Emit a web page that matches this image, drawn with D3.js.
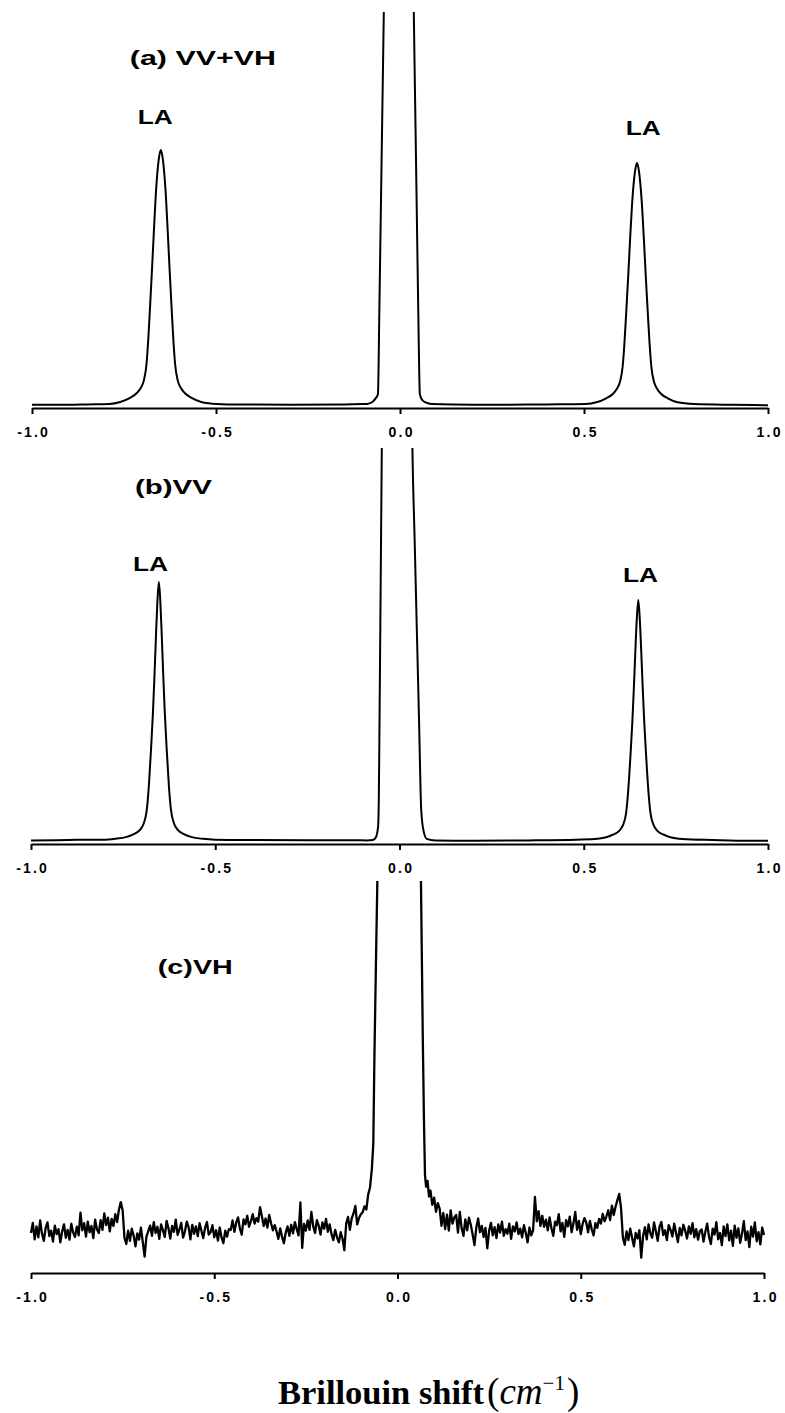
<!DOCTYPE html>
<html>
<head>
<meta charset="utf-8">
<script src="https://cdn.jsdelivr.net/npm/d3@7/dist/d3.min.js"></script>
<style>
  body { margin: 0; background: #fff; }
  svg { display: block; background: #fff; }
  .axis path, .axis line { stroke: #000; stroke-width: 2; }
  .axis text { font-family: Arial, "Liberation Sans", sans-serif; font-weight: bold; font-size: 14px; letter-spacing: 2.2px; fill: #000; }
  .lab { font-family: Arial, "Liberation Sans", sans-serif; font-weight: bold; font-size: 20px; fill: #000; }
  .spec { fill: none; stroke: #000; stroke-width: 2; stroke-linejoin: round; }
  .spec.noisy { stroke-width: 2.3; }
</style>
</head>
<body>
<svg id="chart" width="785" height="1413"></svg>
<script>
// ticks shared by the three panels
const shiftTicks = [-1.0, -0.5, 0.0, 0.5, 1.0];
const panelTitles = ["(a) VV+VH", "(b)VV", "(c)VH"];
const peakLabel = "LA";

// (a) VV+VH : [shift cm-1, intensity] (100 = top of panel, Rayleigh line runs off scale)
const vvvh = [
  [-1.000, 0.3], [-0.900, 0.3], [-0.850, 0.4], [-0.790, 0.5],
  [-0.760, 1.0], [-0.735, 2.0], [-0.715, 3.3], [-0.705, 4.5], [-0.696, 6.5],
  [-0.689, 10.5], [-0.684, 17], [-0.679, 25.5], [-0.674, 34.5], [-0.669, 44],
  [-0.664, 53], [-0.6595, 59], [-0.655, 63], [-0.650, 65], [-0.645, 63],
  [-0.6405, 59], [-0.636, 53], [-0.631, 44], [-0.626, 34.5], [-0.621, 25.5],
  [-0.616, 17], [-0.611, 10.5], [-0.604, 6.5], [-0.595, 4.5], [-0.585, 3.3],
  [-0.565, 2.0], [-0.540, 1.0], [-0.510, 0.6], [-0.450, 0.4], [-0.300, 0.3],
  [-0.150, 0.4], [-0.100, 0.5], [-0.090, 0.5], [-0.075, 1.0], [-0.066, 2.0],
  [-0.060, 3.0], [-0.056, 25], [-0.052, 50], [-0.048, 75], [-0.044, 100],
  [-0.040, 130],
  [0.000, 900],
  [0.034, 130], [0.0375, 100], [0.0415, 75], [0.0455, 50], [0.0495, 25],
  [0.054, 3.0], [0.060, 1.6], [0.070, 0.9], [0.086, 0.5], [0.200, 0.3],
  [0.400, 0.4], [0.504, 0.5],
  [0.534, 0.95], [0.559, 1.9], [0.579, 3.1], [0.589, 4.3], [0.598, 6.2],
  [0.605, 10.0], [0.610, 16.1], [0.615, 24.2], [0.620, 32.7], [0.625, 41.8],
  [0.630, 50.3], [0.6345, 56.0], [0.639, 59.8], [0.644, 61.7], [0.649, 59.8],
  [0.6535, 56.0], [0.658, 50.3], [0.663, 41.8], [0.668, 32.7], [0.673, 24.2],
  [0.678, 16.1], [0.683, 10.0], [0.690, 6.2], [0.699, 4.3], [0.709, 3.1],
  [0.729, 1.9], [0.754, 0.95], [0.800, 0.5], [0.900, 0.3], [1.000, 0.2]
];

// (b) VV
const vv = [
  [-1.000, 0.4], [-0.900, 0.5], [-0.830, 0.6], [-0.800, 0.6],
  [-0.773, 0.8], [-0.740, 1.3], [-0.721, 2.0], [-0.705, 3.0], [-0.695, 4.5],
  [-0.686, 8], [-0.680, 14.5], [-0.674, 24], [-0.669, 33], [-0.665, 42],
  [-0.661, 52], [-0.657, 61], [-0.653, 66], [-0.649, 61], [-0.645, 52],
  [-0.641, 42], [-0.637, 33], [-0.632, 24], [-0.626, 14.5], [-0.620, 8],
  [-0.611, 4.5], [-0.601, 3.0], [-0.585, 2.0], [-0.566, 1.3], [-0.533, 0.8],
  [-0.500, 0.6], [-0.400, 0.5], [-0.250, 0.45], [-0.120, 0.45], [-0.089, 0.4],
  [-0.072, 0.5], [-0.064, 1.2], [-0.058, 4], [-0.056, 12], [-0.054, 33],
  [-0.052, 55], [-0.050, 78], [-0.048, 100], [-0.044, 130],
  [0.000, 900],
  [0.031, 130], [0.035, 100], [0.041, 77], [0.047, 54], [0.053, 31],
  [0.059, 8], [0.066, 2.5], [0.074, 0.8], [0.097, 0.4], [0.200, 0.3],
  [0.350, 0.4], [0.480, 0.6],
  [0.528, 0.75], [0.561, 1.2], [0.580, 1.9], [0.596, 2.8], [0.606, 4.2],
  [0.615, 7.4], [0.621, 13.5], [0.627, 22.3], [0.632, 30.7], [0.636, 39.1],
  [0.640, 48.4], [0.644, 56.7], [0.648, 61.4], [0.652, 56.7], [0.656, 48.4],
  [0.660, 39.1], [0.664, 30.7], [0.669, 22.3], [0.675, 13.5], [0.681, 7.4],
  [0.690, 4.2], [0.700, 2.8], [0.716, 1.9], [0.735, 1.2], [0.768, 0.75],
  [0.850, 0.5], [0.950, 0.3], [1.000, 0.3]
];

// (c) VH : noisy channels every 0.005 cm-1
const vhStep = 0.005;
const vhLeftStart = -1.000;
const vhLeftNoise = [
  10.2, 12.8, 8.6, 11.9, 9.1, 13.4, 10.0, 8.2, 11.5, 12.9, 9.4, 10.8, 8.0, 12.1, 9.9, 11.2, 7.8, 10.6, 12.4, 9.0, 11.0, 8.5, 12.6, 10.3, 9.2,
  11.8, 9.6, 15.4, 10.9, 12.7, 9.3, 13.1, 10.4, 12.0, 8.9, 13.6, 11.1, 10.2,
  13.5, 11.0, 15.2, 12.2, 14.1, 10.6, 13.8, 12.0, 15.0, 13.0, 16.2,
  18.1, 16.0,
  9.0, 7.4, 10.8, 8.2, 11.3, 9.6, 6.8, 10.1, 8.5, 11.6, 7.9, 4.2, 9.3, 10.7,
  12.1, 9.5, 13.0, 10.2, 11.8, 8.7, 12.4, 10.9, 9.2, 13.3, 11.4, 8.8, 12.0, 10.5, 13.6, 9.7, 11.1, 12.8,
  9.0, 10.6, 13.1, 11.7, 8.6, 12.3, 10.0, 11.9, 9.4, 12.7, 10.8, 8.9, 11.5, 13.0, 9.8, 10.4, 12.2, 9.1,
  10.9, 8.3, 11.6, 9.0, 7.6, 10.8, 9.3, 11.2,
  11.0, 13.4, 10.5, 12.9, 14.2, 11.3, 9.8, 13.7, 12.4, 14.6, 11.8, 13.2, 15.0, 12.6, 14.0, 13.1, 16.8,
  14.5, 12.0, 13.9, 11.6, 14.8, 12.7, 10.9, 12.2,
  10.6, 8.7, 11.4, 9.2, 7.6, 10.3, 11.9, 9.5,
  12.3, 10.1, 13.0, 11.2, 9.6, 18.0, 6.4, 12.5, 10.8, 13.4, 11.0,
  15.6, 11.9, 10.2, 13.5, 12.1, 9.8, 12.9, 11.3, 13.8, 10.5, 12.4,
  9.9, 8.4, 11.0, 9.1, 7.8, 10.4, 8.8, 5.8,
  12.6, 14.3, 11.0, 13.9, 15.2, 17.1, 12.4, 14.0
];
const vhCentre = [
  [-0.100, 15.0], [-0.095, 15.5], [-0.090, 17.0], [-0.085, 16.2], [-0.080, 20.0],
  [-0.075, 21.8], [-0.070, 26.5], [-0.066, 33], [-0.063, 55], [-0.059, 78],
  [-0.055, 100], [-0.045, 160], [0.000, 900], [0.050, 160], [0.064, 100],
  [0.0665, 80], [0.069, 60], [0.072, 40], [0.075, 25], [0.078, 22.0],
  [0.082, 23.5], [0.086, 19.5], [0.090, 21.0], [0.095, 17.4], [0.100, 19.2],
  [0.105, 15.6], [0.110, 17.8]
];
const vhRightStart = 0.115;
const vhRightNoise = [
  16.4, 12.0, 15.3, 11.2, 14.9, 10.8, 16.0, 12.6, 14.2,
  14.8, 10.3, 15.6, 11.4, 9.5, 13.7, 10.9, 14.1,
  12.3, 9.8, 7.1, 11.6, 13.9, 10.4, 12.0, 9.2, 11.5, 6.3, 10.8,
  12.8, 9.6, 11.7, 8.9, 12.4, 10.3, 13.1, 9.5, 11.2, 10.0, 12.6, 8.7, 11.9, 10.6, 12.9, 9.9,
  11.3, 9.1, 12.2, 10.2, 7.8, 11.6, 9.6, 10.9,
  19.4, 13.2, 15.8, 12.0, 14.6, 11.8,
  13.6, 10.9, 14.2, 11.4, 9.5, 13.1, 12.2, 15.0, 10.6, 12.8, 9.2, 13.5, 11.9, 14.4, 10.4, 12.6, 15.6, 11.0, 13.3, 9.9, 12.5, 14.0,
  12.9, 10.4, 13.3, 11.1, 9.6, 12.7, 11.5, 13.8,
  12.6, 15.1, 13.2, 14.4, 16.0, 13.5, 17.2, 14.8, 16.9, 18.6, 20.2,
  16.5, 9.0,
  7.2, 10.6, 8.4, 11.3, 9.0, 6.8, 10.2, 8.8, 10.9,
  3.9,
  9.4, 11.7, 8.6, 12.4, 10.1, 9.0, 12.9, 10.6, 8.2, 11.8, 13.0, 9.7, 10.9, 8.4, 12.2, 11.0,
  9.3, 12.6, 10.2, 7.9, 11.5, 9.6, 12.3, 10.8, 8.8, 11.9, 10.0, 12.7, 9.1, 11.2, 8.5, 10.7,
  11.1, 8.0, 10.5, 12.6, 9.2, 7.4, 11.3, 9.8, 13.0, 8.6, 10.2, 7.1, 11.9, 9.4, 12.4, 8.3, 10.8,
  6.9, 12.1, 9.0, 11.4, 7.7, 10.1, 13.2, 8.4, 10.6, 6.6, 11.8, 9.3, 12.9, 8.1, 10.4, 7.3, 11.6, 9.7
];

const vh = vhLeftNoise.map((v, i) => [vhLeftStart + i * vhStep, v])
  .concat(vhCentre)
  .concat(vhRightNoise.map((v, i) => [vhRightStart + i * vhStep, v]));

const svg = d3.select("#chart");

const panels = [
  { id: "a", data: vvvh, xr: [32, 768], base: 406, top: 12, axisY: 408, curve: d3.curveMonotoneX, noisy: false,
    title: { text: panelTitles[0], at: [-0.734, 86.5], len: 146 },
    peaks: [[-0.665, 71.6], [0.661, 68.8]] },
  { id: "b", data: vv, xr: [31, 768], base: 842, top: 448, axisY: 844, curve: d3.curveMonotoneX, noisy: false,
    title: { text: panelTitles[1], at: [-0.718, 88.3], len: 77 },
    peaks: [[-0.676, 68.8], [0.654, 66.0]] },
  { id: "c", data: vh, xr: [31, 764], base: 1273, top: 881, axisY: 1273, curve: d3.curveLinear, noisy: true,
    title: { text: panelTitles[2], at: [-0.654, 76.3], len: 75 },
    peaks: [] }
];

panels.forEach(function (p) {
  const x = d3.scaleLinear().domain([-1, 1]).range(p.xr);
  const y = d3.scaleLinear().domain([0, 100]).range([p.base, p.top]);

  svg.append("clipPath").attr("id", "clip-" + p.id)
    .append("rect")
    .attr("x", 0).attr("y", p.top)
    .attr("width", 785).attr("height", p.axisY + 6 - p.top);

  const line = d3.line()
    .x(d => x(d[0]))
    .y(d => y(d[1]))
    .curve(p.curve);

  const g = svg.append("g");

  g.append("g")
    .attr("class", "axis")
    .attr("transform", "translate(0," + p.axisY + ")")
    .call(d3.axisBottom(x)
      .tickValues(shiftTicks)
      .tickFormat(d => d.toFixed(1))
      .tickSize(6)
      .tickSizeOuter(0))
    .call(a => a.selectAll(".tick text").attr("dy", "1.4em").attr("dx", "1.1"));

  g.append("path")
    .datum(p.data)
    .attr("class", p.noisy ? "spec noisy" : "spec")
    .attr("clip-path", "url(#clip-" + p.id + ")")
    .attr("d", line);

  // wide, stretched lettering as in the original plot
  g.append("text")
    .attr("class", "lab")
    .attr("x", x(p.title.at[0]))
    .attr("y", y(p.title.at[1]))
    .attr("textLength", p.title.len)
    .attr("lengthAdjust", "spacingAndGlyphs")
    .text(p.title.text);

  g.selectAll("text.peak")
    .data(p.peaks)
    .join("text")
    .attr("class", "lab peak")
    .attr("text-anchor", "middle")
    .attr("x", d => x(d[0]))
    .attr("y", d => y(d[1]))
    .attr("textLength", 35)
    .attr("lengthAdjust", "spacingAndGlyphs")
    .text(peakLabel);
});

// x axis title
const xt = svg.append("text")
  .attr("x", 278)
  .attr("y", 1404)
  .style("font-family", "'Liberation Serif', 'Times New Roman', serif")
  .style("font-size", "34.5px")
  .attr("fill", "#000");
xt.append("tspan").style("font-weight", "bold").text("Brillouin shift");
xt.append("tspan").attr("dx", 3).style("font-size", "37px").text("(");
xt.append("tspan").style("font-style", "italic").style("font-size", "37px").text("cm");
xt.append("tspan").attr("dy", -14).style("font-size", "21px").text("\u22121");
xt.append("tspan").attr("dx", 2).attr("dy", 14).style("font-size", "37px").text(")");
</script>
</body>
</html>
